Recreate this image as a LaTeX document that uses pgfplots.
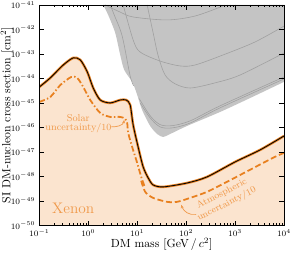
\documentclass[border=0pt]{standalone}
\usepackage{pgfplots}
\usepackage{pgfplotstable}
\pgfplotsset{compat=1.18}
\usepgfplotslibrary{fillbetween}
\usetikzlibrary{arrows.meta}
\definecolor{floorfill}{HTML}{FBE4CF}
\definecolor{xeorange}{HTML}{E8801F}
\definecolor{lblorange}{HTML}{F0994A}
\definecolor{grayfill}{HTML}{C4C4C4}
\definecolor{grayline}{HTML}{A0A0A0}

\pgfplotstableread{
x y
0.1 4.47e-45
0.1675 1.05e-44
0.309 3.55e-44
0.494 6.92e-44
0.687 5.75e-44
0.955 1.86e-44
1.265 4.07e-45
1.758 1.32e-45
2.81 1.0e-45
4.50 1.32e-45
5.97 1.32e-45
7.19 8.32e-46
8.28 1.26e-46
10.47 1.58e-47
13.24 2.45e-48
16.75 8.71e-49
21.2 4.47e-49
34.0 3.72e-49
104.7 5.37e-49
268.5 9.55e-49
1000 3.89e-48
3236 1.2e-47
10000 4.47e-47
}\floortab

\pgfplotstableread{
x y
0.1 1.10e-45
0.1675 1.74e-45
0.2685 5.37e-45
0.450 1.15e-44
0.597 1.05e-44
0.791 4.47e-45
1.099 1.32e-45
1.758 3.89e-46
2.81 2.69e-46
4.50 2.69e-46
5.69 2.24e-46
6.25 1.51e-46
6.55 6.03e-47
7.91 1.58e-47
10 3.55e-48
12.08 9.55e-49
14.55 3.39e-49
}\solartab

\pgfplotstableread{
x y
12.08 6.61e-49
14.55 2.34e-49
21.2 1.32e-49
40.9 9.12e-50
65.5 9.12e-50
120.8 1.32e-49
268.5 2.34e-49
687 6.03e-49
2023 1.86e-48
5970 5.75e-48
10000 9.12e-48
}\atmtab

\pgfplotstableread{
x y
2.02 1.0e-41
2.56 3.89e-42
3.56 7.24e-43
4.50 9.12e-44
5.43 2.24e-44
7.91 7.24e-45
9.55 2.82e-45
12.65 5.13e-46
18.41 1.15e-46
25.6 5.37e-47
34.0 4.07e-47
47.1 5.37e-47
104.7 1.15e-46
494 4.27e-46
2023 1.58e-45
10000 7.24e-45
}\graytab

\begin{document}
\begin{tikzpicture}
\begin{axis}[
  scale only axis, width=208pt, height=187.3pt,
  xmode=log, ymode=log,
  xmin=1e-1, xmax=1e4, ymin=1e-50, ymax=1e-41,
  xtick={1e-1,1,10,100,1000,10000},
  ytick={1e-50,1e-49,1e-48,1e-47,1e-46,1e-45,1e-44,1e-43,1e-42,1e-41},
  yminorticks=false,
  tick align=inside,
  major tick length=4pt, minor tick length=2pt,
  every tick/.style={black, line width=0.4pt},
  axis line style={black, line width=0.6pt},
  tick label style={font=\fontsize{7}{8}\selectfont},
  label style={font=\fontsize{10}{12}\selectfont},
  xlabel={DM mass [GeV$\,/\,c^2$]},
  ylabel={SI DM-nucleon cross section [cm$^2$]},
  every axis x label/.style={at={(axis description cs:0.5,0)}, yshift=-16.3pt, anchor=center},
  every axis y label/.style={at={(axis description cs:-0.132,0.5)}, rotate=90, anchor=center},
  axis on top,
  clip=true,
]
% neutrino floor fill
\addplot[draw=none, name path=floorp, smooth, tension=0.45, forget plot] table {\floortab};
\addplot[draw=none, name path=bottomp, forget plot] coordinates {(0.1,1e-50) (10000,1e-50)};
\addplot[floorfill, forget plot] fill between[of=floorp and bottomp];
% excluded region
\addplot[draw=none, name path=grayb, smooth, tension=0.45, forget plot] table {\graytab};
\addplot[draw=none, name path=grayt, forget plot] coordinates {(2.02,1e-41) (10000,1e-41)};
\addplot[grayfill, forget plot] fill between[of=grayb and grayt];
% individual limits
\addplot[grayline, line width=0.5pt, smooth] coordinates {(5.18,1e-41) (8.28,3.72e-43) (11.5,1.2e-43) (29.4,5.13e-44) (75.5,3.24e-44) (152.8,3.55e-44) (569,9.12e-44) (2559,3.09e-43) (10000,1.38e-42)};
\addplot[grayline, line width=0.5pt, smooth] coordinates {(16.0,1e-41) (21.2,7.24e-43) (26.9,8.32e-44) (37.2,1.38e-44) (59.7,6.03e-45) (120.8,4.07e-45) (391,6.61e-45) (1265,1.38e-44) (10000,1.1e-43)};
\addplot[grayline, line width=0.5pt, smooth] coordinates {(11.5,1.0e-45) (18.4,2.45e-46) (29.4,1.05e-46) (51.8,9.55e-47) (120.8,1.51e-46) (494,6.31e-46) (10000,9.55e-45)};
\addplot[grayline, line width=0.5pt, smooth] coordinates {(11.0,1.5e-45) (18.4,3.0e-46) (29.4,1.3e-46) (51.8,1.18e-46) (120.8,1.85e-46) (494,7.6e-46) (10000,1.15e-44)};
\addplot[grayline, line width=0.5pt, smooth] coordinates {(2.81,1e-41) (3.40,3.89e-42) (4.94,5.37e-43) (7.19,1.26e-44) (8.5,5.0e-45)};
\addplot[grayline, line width=0.5pt, smooth] coordinates {(2.22,1e-41) (4.50,5.13e-42) (8.28,3.24e-42) (40.9,2.45e-42) (152.8,3.55e-42) (569,9.12e-42)};
% floor line
\addplot[xeorange, line width=2.1pt, smooth, tension=0.45] table {\floortab};
\addplot[black, line width=0.7pt, smooth, tension=0.45] table {\floortab};
% uncertainty/10 curves
\addplot[xeorange, line width=1.5pt, smooth, tension=0.45, dash pattern=on 5pt off 2pt on 1.2pt off 2pt] table {\solartab};
\addplot[xeorange, line width=1.5pt, smooth, tension=0.45, dash pattern=on 5pt off 2.5pt] table {\atmtab};
% labels
\node[lblorange, font=\fontsize{13}{15}\selectfont] at (axis cs:0.494,5.1e-50) {Xenon};
\node[lblorange, font=\fontsize{8.5}{9.5}\selectfont] at (axis cs:0.625,2.45e-46) {Solar};
\node[lblorange, font=\fontsize{8.5}{9.5}\selectfont] at (axis cs:0.63,9.3e-47) {uncertainty$/10$};
\draw[lblorange, line width=0.6pt, -{Stealth[length=3pt,width=2.5pt]}] (axis cs:2.94,1.05e-46) to[out=0,in=-100] (axis cs:5.43,2.04e-46);
\node[lblorange, font=\fontsize{8}{9.5}\selectfont, rotate=27] at (axis cs:536,1.95e-49) {Atmospheric};
\node[lblorange, font=\fontsize{8}{9.5}\selectfont, rotate=27] at (axis cs:678,7.3e-50) {uncertainty$/10$};
\draw[lblorange, line width=0.6pt, -{Stealth[length=3pt,width=2.5pt]}] (axis cs:160,2.8e-50) to[out=190,in=-70] (axis cs:79.1,6.9e-50);
\end{axis}
\pgfresetboundingbox
\path ([shift={(-33.4pt,-24.4pt)}]current axis.south west) rectangle ([shift={(7.65pt,4.25pt)}]current axis.north east);
\end{tikzpicture}
\end{document}
